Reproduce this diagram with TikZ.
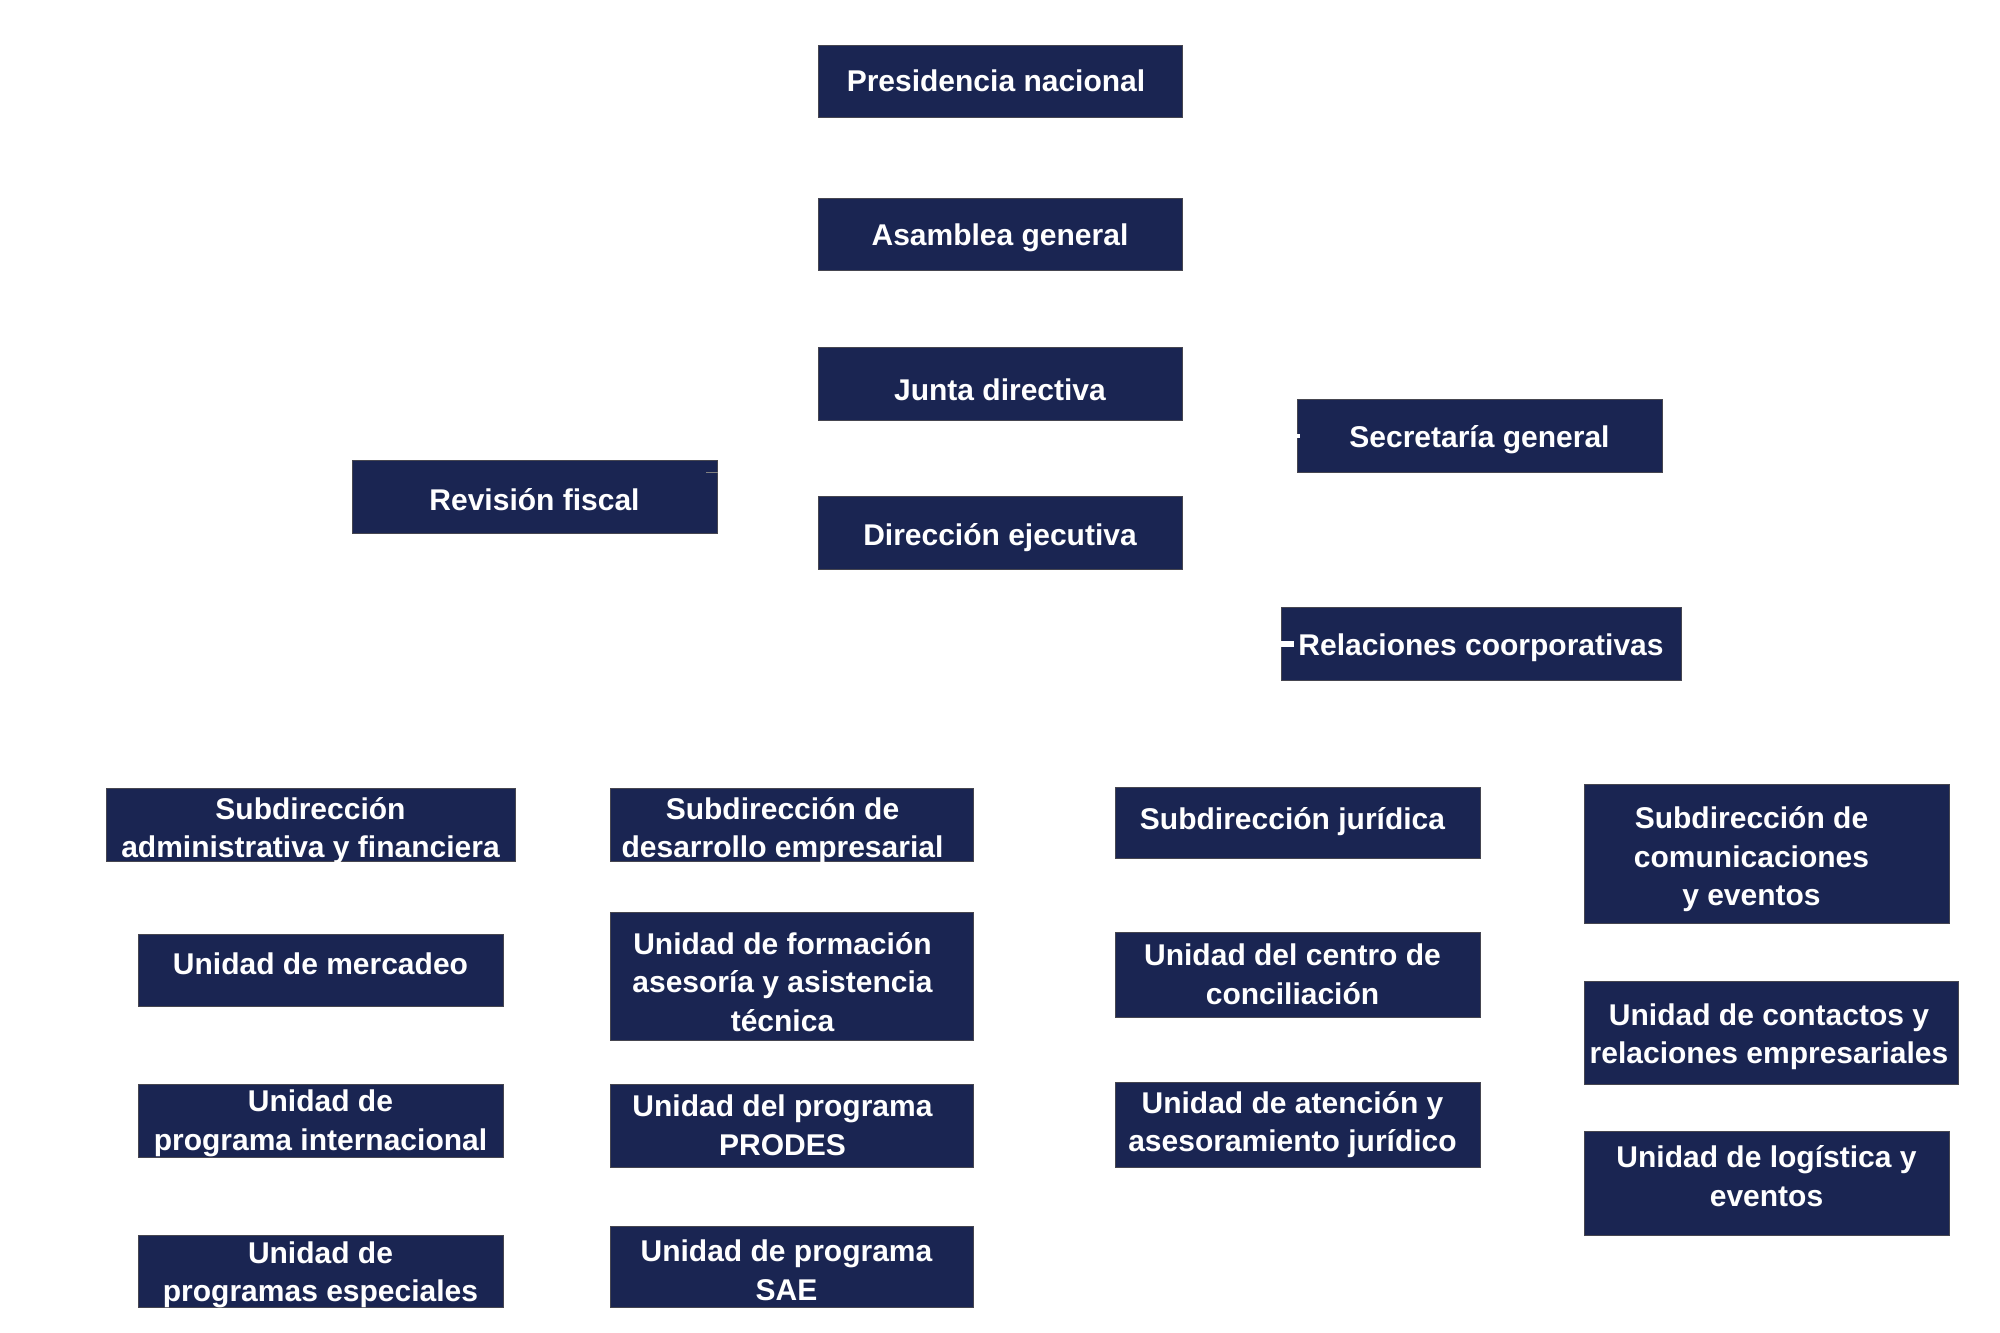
\documentclass[tikz,border=0pt]{standalone}
\usepackage{fontspec}
\setmainfont{Liberation Sans}
\definecolor{navy}{RGB}{26,37,82}
\definecolor{edge}{RGB}{70,70,80}
\tikzset{
  orgbox/.style={draw=edge, line width=1pt, fill=navy, inner sep=0pt},
  orgtext/.style={text=white, align=center, inner sep=0pt,
    font=\fontsize{30}{38.5}\selectfont\bfseries},
  stub/.style={draw=white, line width=6pt},
  thinstub/.style={draw=gray, line width=1pt},
}
\begin{document}
\begin{tikzpicture}[x=1pt,y=-1pt]
\useasboundingbox[fill=white] (0,0) rectangle (2000,1333);
% top column
\node[orgbox, minimum width=364pt, minimum height=72pt] (pres) at (1000,81) {};
\node[orgtext] (pres-t) at ([xshift=-4pt]pres.center) {Presidencia nacional};
\node[orgbox, minimum width=364pt, minimum height=72pt] (asam) at (1000,234) {};
\node[orgtext] (asam-t) at ([yshift=-4pt]asam.center) {Asamblea general};
\node[orgbox, minimum width=364pt, minimum height=73pt] (junta) at (1000,383.5) {};
\node[orgtext] (junta-t) at ([yshift=-6pt]junta.center) {Junta directiva};
\node[orgbox, minimum width=364pt, minimum height=73pt] (dir) at (1000,532.5) {};
\node[orgtext] (dir-t) at ([yshift=-5pt]dir.center) {Dirección ejecutiva};
\node[orgbox, minimum width=365pt, minimum height=73pt] (rev) at (534.5,496.5) {};
\node[orgtext] (rev-t) at ([yshift=-3pt]rev.center) {Revisión fiscal};
\node[orgbox, minimum width=365pt, minimum height=73pt] (sec) at (1479.5,435.5) {};
\node[orgtext] (sec-t) at ([yshift=-4pt]sec.center) {Secretaría general};
\node[orgbox, minimum width=400pt, minimum height=73pt] (rel) at (1481,643.5) {};
\node[orgtext] (rel-t) at ([yshift=-4pt]rel.center) {Relaciones coorporativas};
% connector remnants
\coordinate (relstub) at (1294,644);
\draw[stub] (rel.west |- relstub) -- (relstub);
\coordinate (secstub) at (1300,435.5);
\draw[draw=white, line width=4pt] (sec.west) -- (secstub);
\coordinate (revstub) at (706,472);
\draw[thinstub] (revstub) -- (rev.east |- revstub);
% column 1
\node[orgbox, minimum width=409pt, minimum height=73pt] (subadm) at (310.5,824.5) {};
\node[orgtext] (subadm-t) at ([yshift=-6pt]subadm.center) {Subdirección\\administrativa y financiera};
\node[orgbox, minimum width=365pt, minimum height=72pt] (merc) at (320.5,970) {};
\node[orgtext] (merc-t) at ([yshift=6pt]merc.center) {Unidad de mercadeo};
\node[orgbox, minimum width=365pt, minimum height=73pt] (intl) at (320.5,1120.5) {};
\node[orgtext] (intl-t) at ([yshift=-3pt]intl.center) {Unidad de\\programa internacional};
\node[orgbox, minimum width=365pt, minimum height=72pt] (esp) at (320.5,1271) {};
\node[orgtext] (esp-t) at ([yshift=-4pt]esp.center) {Unidad de\\programas especiales};
% column 2
\node[orgbox, minimum width=363pt, minimum height=73pt] (subdes) at (791.5,824.5) {};
\node[orgtext] (subdes-t) at ([xshift=-9pt,yshift=-6pt]subdes.center) {Subdirección de\\desarrollo empresarial};
\node[orgbox, minimum width=363pt, minimum height=128pt] (form) at (791.5,976) {};
\node[orgtext] (form-t) at ([xshift=-9pt,yshift=-6pt]form.center) {Unidad de formación\\asesoría y asistencia\\técnica};
\node[orgbox, minimum width=363pt, minimum height=83pt] (prodes) at (791.5,1125.5) {};
\node[orgtext] (prodes-t) at ([xshift=-9pt]prodes.center) {Unidad del programa\\PRODES};
\node[orgbox, minimum width=363pt, minimum height=81pt] (sae) at (791.5,1266.5) {};
\node[orgtext] (sae-t) at ([xshift=-5pt,yshift=-4pt]sae.center) {Unidad de programa\\SAE};
% column 3
\node[orgbox, minimum width=365pt, minimum height=71pt] (subjur) at (1297.5,822.5) {};
\node[orgtext] (subjur-t) at ([xshift=-5pt,yshift=1pt]subjur.center) {Subdirección jurídica};
\node[orgbox, minimum width=365pt, minimum height=85pt] (conc) at (1297.5,974.5) {};
\node[orgtext] (conc-t) at ([xshift=-5pt]conc.center) {Unidad del centro de\\conciliación};
\node[orgbox, minimum width=365pt, minimum height=85pt] (aten) at (1297.5,1124.5) {};
\node[orgtext] (aten-t) at ([xshift=-5pt]aten.center) {Unidad de atención y\\asesoramiento jurídico};
% column 4
\node[orgbox, minimum width=365pt, minimum height=139pt] (subcom) at (1766.5,853.5) {};
\node[orgtext] (subcom-t) at ([xshift=-15pt,yshift=-6pt]subcom.center) {Subdirección de\\comunicaciones\\y eventos};
\node[orgbox, minimum width=374pt, minimum height=103pt] (cont) at (1771,1032.5) {};
\node[orgtext] (cont-t) at ([xshift=-2pt,yshift=-4pt]cont.center) {Unidad de contactos y\\relaciones empresariales};
\node[orgbox, minimum width=365pt, minimum height=104pt] (log) at (1766.5,1183) {};
\node[orgtext] (log-t) at ([yshift=7pt]log.center) {Unidad de logística y\\eventos};
\end{tikzpicture}
\end{document}
